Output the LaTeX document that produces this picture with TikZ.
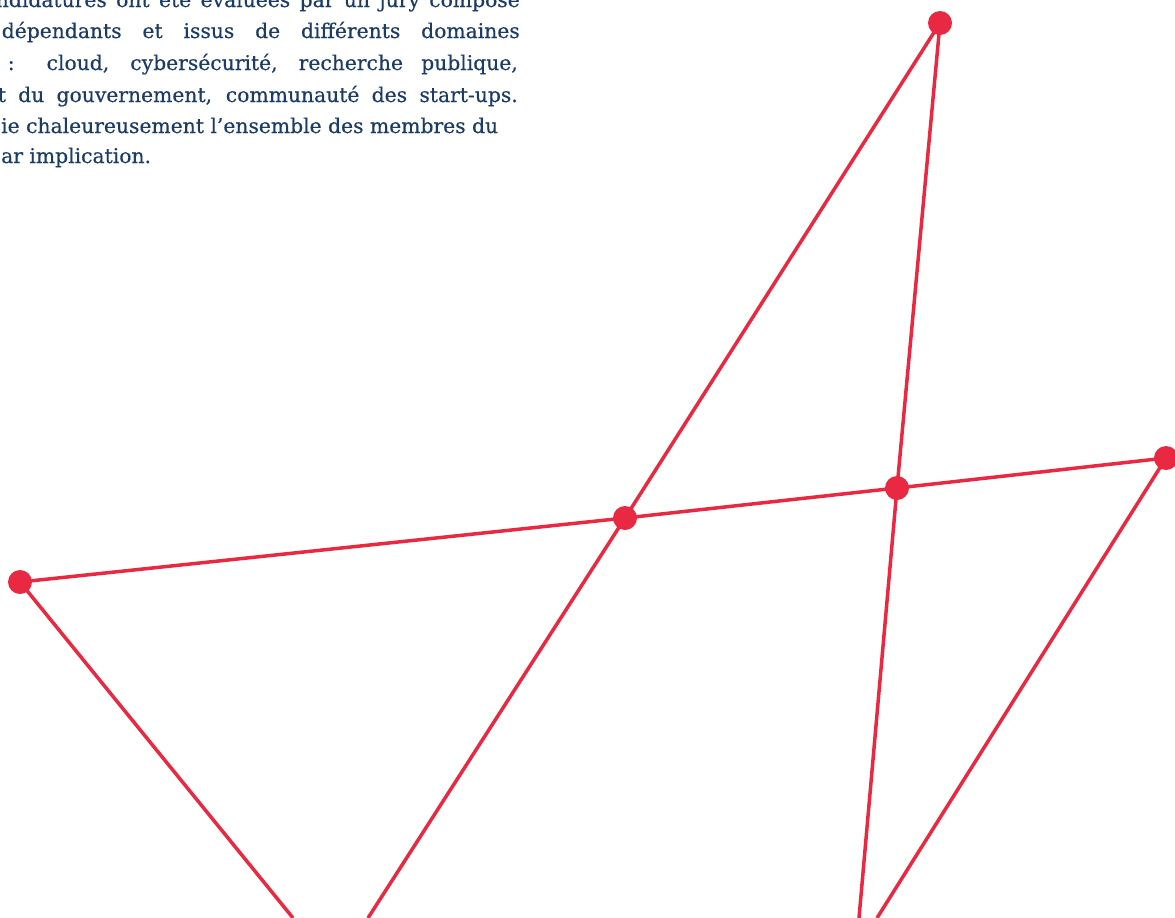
\documentclass[tikz,border=0pt]{standalone}
\usepackage{fontspec}
\setmainfont{DejaVu Serif}[FakeBold=0.4]
\usetikzlibrary{positioning,backgrounds}
\definecolor{rouge}{RGB}{233,41,65}
\definecolor{marine}{RGB}{27,60,104}

\begin{document}
\begin{tikzpicture}[x=1pt,y=-1pt,
  pt/.style={circle,fill=rouge,inner sep=0pt,minimum size=24pt},
  trait/.style={draw=rouge,line width=3.5pt},
  ligne/.style={text=marine,font=\fontsize{20.3}{31}\selectfont,inner sep=0pt}]
  \useasboundingbox (0,0) rectangle (1175,918);
  \clip (0,0) rectangle (1175,918);

  % le texte, coupe a gauche
  \node[ligne,anchor=base east] (l1) at (520,7)
    {\makebox[524pt][s]{ndidatures ont été évaluées par un jury composé}};
  \node[ligne,anchor=base east] (l2) at (520,38)
    {\makebox[518pt][s]{dépendants et issus de différents domaines}};
  \node[ligne,anchor=base east] (l3) at (518,70)
    {\makebox[510pt][s]{: cloud, cybersécurité, recherche publique,}};
  \node[ligne,anchor=base east] (l4) at (518,102)
    {\makebox[520pt][s]{t du gouvernement, communauté des start-ups.}};
  \node[ligne,anchor=base west] (l5) at (1,133)
    {ie chaleureusement l’ensemble des membres du};
  \node[ligne,anchor=base west] (l6) at (1,163)
    {ar implication.};

  % les points
  \node[pt] (A) at (940,23) {};
  \node[pt] (B) at (1166,458) {};
  \node[pt] (C) at (897,488) {};
  \node[pt] (D) at (625,518) {};
  \node[pt] (E) at (20,582) {};

  \coordinate (bE) at (293,918);
  \coordinate (bD) at (368,918);
  \coordinate (bC) at (859,918);
  \coordinate (bB) at (877,918);

  \begin{scope}[on background layer]
    \draw[trait] (E.center) -- (D.center) -- (C.center) -- (B.center);
    \draw[trait] (A.center) -- (D.center) -- (bD);
    \draw[trait] (A.center) -- (C.center) -- (bC);
    \draw[trait] (E.center) -- (bE);
    \draw[trait] (B.center) -- (bB);
  \end{scope}
\end{tikzpicture}
\end{document}
